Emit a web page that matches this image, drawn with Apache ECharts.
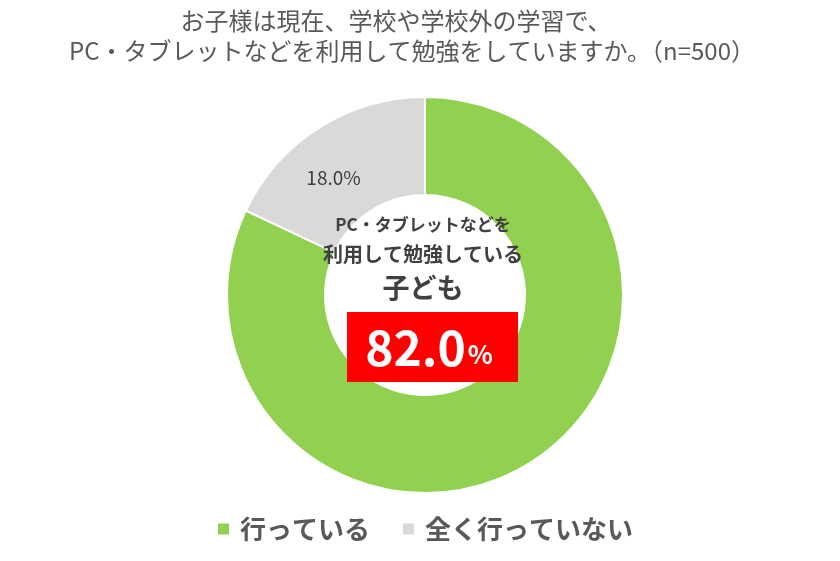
<!DOCTYPE html>
<html><head><meta charset="utf-8">
<script src="https://cdn.jsdelivr.net/npm/echarts@6/dist/echarts.min.js"></script>
<style>html,body{margin:0;padding:0;background:#fff}#c{width:840px;height:561px}</style>
</head><body><div id="c"></div>
<script>
const titleLines = ['お子様は現在、学校や学校外の学習で、', 'PC・タブレットなどを利用して勉強をしていますか。（n=500）'];
const categories = ['行っている', '全く行っていない'];
const values = [82.0, 18.0];
const colors = ['#92D050', '#D9D9D9'];
const centerLines = ['PC・タブレットなどを', '利用して勉強している', '子ども'];

const font = '"Noto Sans CJK JP", "Noto Sans", sans-serif';
const chart = echarts.init(document.getElementById('c'));
chart.setOption({
  backgroundColor: '#fff',
  legend: {
    bottom: 14, left: 211,
    icon: 'rect', itemWidth: 13, itemHeight: 13, itemGap: 31,
    textStyle: { fontFamily: font, fontSize: 26, fontWeight: 'bold', color: '#595959', padding: [0, 0, 0, 5] },
    data: categories
  },
  series: [{
    type: 'pie',
    center: [425, 295],
    radius: [100, 198],
    startAngle: 90,
    clockwise: true,
    avoidLabelOverlap: false,
    itemStyle: { borderColor: '#fff', borderWidth: 2 },
    emphasis: { disabled: true },
    label: { show: false },
    labelLine: { show: false },
    data: categories.map((n, i) => ({
      name: n, value: values[i],
      itemStyle: { color: colors[i] },
      label: i === 1 ? {
        show: true, position: 'inside', offset: [-10, 11],
        formatter: p => p.value.toFixed(1) + '%',
        fontFamily: font, fontSize: 19, color: '#404040'
      } : { show: false }
    }))
  }],
  graphic: [
    { type: 'text', z: 100, x: 396, y: 21, style: { text: titleLines[0], font: '24px ' + font, fill: '#595959', align: 'center', verticalAlign: 'middle' } },
    { type: 'text', z: 100, x: 412, y: 51, style: { text: titleLines[1], font: '24px ' + font, fill: '#595959', align: 'center', verticalAlign: 'middle' } },
    { type: 'text', z: 100, x: 423, y: 225, style: { text: centerLines[0], font: 'bold 17px ' + font, fill: '#404040', align: 'center', verticalAlign: 'middle' } },
    { type: 'text', z: 100, x: 423, y: 254, style: { text: centerLines[1], font: 'bold 20px ' + font, fill: '#404040', align: 'center', verticalAlign: 'middle' } },
    { type: 'text', z: 100, x: 423, y: 288, style: { text: centerLines[2], font: 'bold 27px ' + font, fill: '#404040', align: 'center', verticalAlign: 'middle' } },
    { type: 'rect', z: 100, shape: { x: 347, y: 312, width: 171, height: 70 }, style: { fill: '#FF0000' } },
    { type: 'text', z: 101, x: 429, y: 348, style: {
        text: '{a|' + values[0].toFixed(1) + '}{b|%}',
        align: 'center', verticalAlign: 'middle',
        rich: {
          a: { fontFamily: font, fontSize: 48, fontWeight: 'bold', fill: '#fff', verticalAlign: 'bottom' },
          b: { fontFamily: font, fontSize: 26, fontWeight: 'bold', fill: '#fff', verticalAlign: 'bottom', padding: [0,0,5,2] }
        }
      } }
  ]
});
</script></body></html>
